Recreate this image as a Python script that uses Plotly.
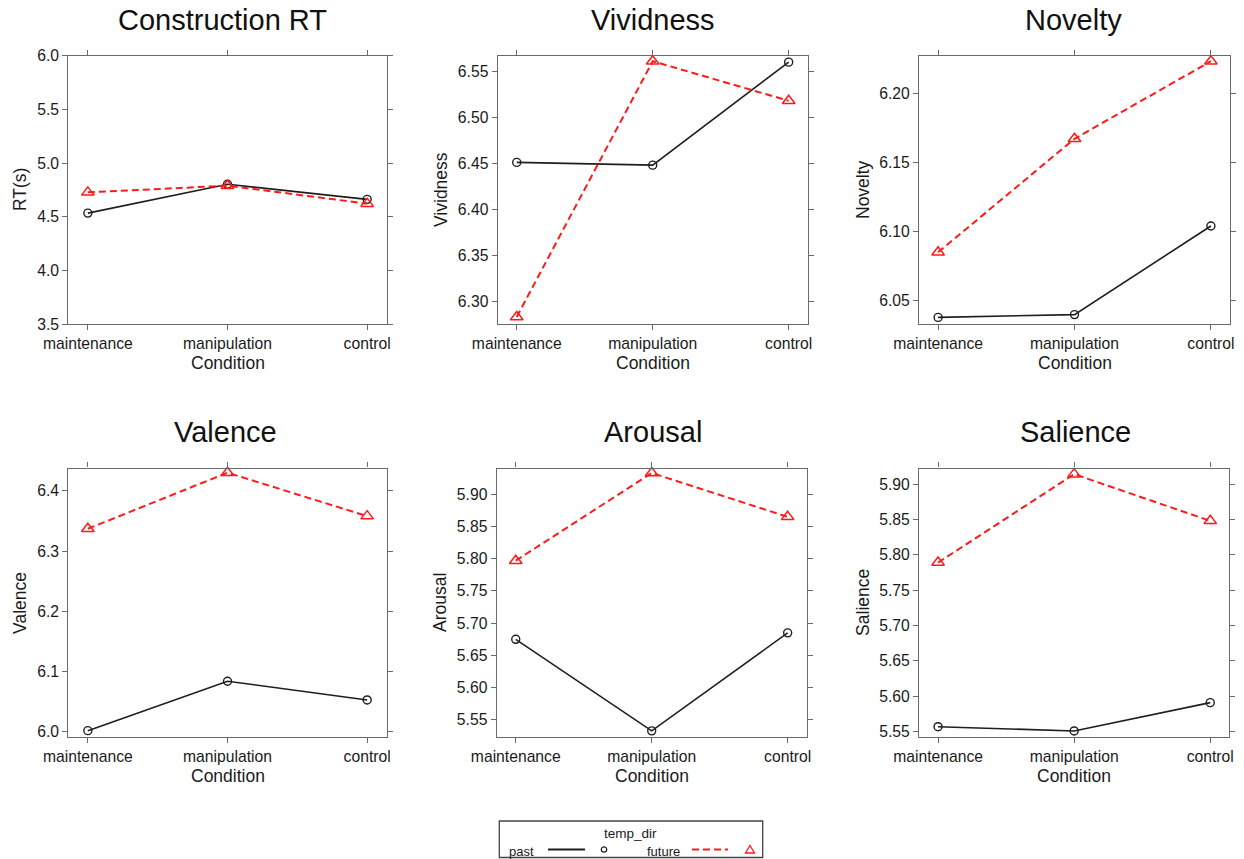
import plotly.graph_objects as go

# Condition levels on the x axis
conditions = ["maintenance", "manipulation", "control"]

# Cell means per outcome, split by temporal direction
rt_past = [4.535, 4.803, 4.663]
rt_future = [4.728, 4.790, 4.623]
viv_past = [6.451, 6.448, 6.560]
viv_future = [6.283, 6.561, 6.518]
nov_past = [6.038, 6.040, 6.104]
nov_future = [6.085, 6.167, 6.223]
val_past = [6.002, 6.084, 6.053]
val_future = [6.337, 6.430, 6.358]
aro_past = [5.675, 5.533, 5.685]
aro_future = [5.797, 5.933, 5.865]
sal_past = [5.557, 5.551, 5.591]
sal_future = [5.789, 5.914, 5.848]

titles = ["Construction RT", "Vividness", "Novelty", "Valence", "Arousal", "Salience"]
ylabels = ["RT(s)", "Vividness", "Novelty", "Valence", "Arousal", "Salience"]
past_series = [rt_past, viv_past, nov_past, val_past, aro_past, sal_past]
future_series = [rt_future, viv_future, nov_future, val_future, aro_future, sal_future]

# axis settings per panel
y_ranges = [[3.5, 6.0], [6.275, 6.567], [6.033, 6.227],
            [5.991, 6.437], [5.523, 5.940], [5.542, 5.922]]
y_ticks = [[3.5, 4.0, 4.5, 5.0, 5.5, 6.0],
           [6.30, 6.35, 6.40, 6.45, 6.50, 6.55],
           [6.05, 6.10, 6.15, 6.20],
           [6.0, 6.1, 6.2, 6.3, 6.4],
           [5.55, 5.60, 5.65, 5.70, 5.75, 5.80, 5.85, 5.90],
           [5.55, 5.60, 5.65, 5.70, 5.75, 5.80, 5.85, 5.90]]
y_formats = [".1f", ".2f", ".2f", ".1f", ".2f", ".2f"]

W, H = 1244, 859
# panel boxes in pixels: (left, right, top, bottom)
boxes = [(68.3, 386.7, 55.7, 324.3), (497.7, 807.7, 55.7, 324.3), (919, 1230, 55.7, 324.3),
         (68.3, 386.7, 468.5, 737.3), (496.7, 806.7, 468.5, 737.3), (919, 1229.3, 468.5, 737.3)]
title_x = [222.5, 653, 1073, 225, 653, 1075]
title_y = [20, 20, 20, 432, 432, 432]
ylab_x = [20, 441, 863, 20, 440, 863]

FONT = "Liberation Sans, Arial, sans-serif"
AXIS_COL = "#6a6a6a"
TXT = "#1a1a1a"

fig = go.Figure()
annotations = []

for i in range(6):
    n = "" if i == 0 else str(i + 1)
    xa, ya = "x" + n, "y" + n
    l, r, t, b = boxes[i]
    fig.add_trace(go.Scatter(
        x=conditions, y=past_series[i], xaxis=xa, yaxis=ya, mode="lines+markers",
        line=dict(color="#1e1e1e", width=1.6),
        marker=dict(symbol="circle-open", size=8, color="#1e1e1e", line=dict(width=1.4)),
        showlegend=False, cliponaxis=False))
    fig.add_trace(go.Scatter(
        x=conditions, y=future_series[i], xaxis=xa, yaxis=ya, mode="lines+markers",
        line=dict(color="#ff1a1a", width=2, dash="7px,4px"),
        marker=dict(symbol="triangle-up-open", size=11, color="#ff1a1a", line=dict(width=1.5)),
        showlegend=False, cliponaxis=False))

    common = dict(showline=True, linecolor=AXIS_COL, linewidth=1.3, mirror="ticks",
                  ticks="outside", ticklen=5, tickwidth=1.2, tickcolor=AXIS_COL,
                  showgrid=False, zeroline=False, fixedrange=True, automargin=False,
                  tickfont=dict(family=FONT, size=15.7, color=TXT))
    fig.layout["xaxis" + n] = dict(
        common, domain=[l / W, r / W], anchor=ya, type="category",
        categoryorder="array", categoryarray=conditions, range=[-0.14, 2.14])
    fig.layout["yaxis" + n] = dict(
        common, domain=[1 - b / H, 1 - t / H], anchor=xa, range=y_ranges[i],
        tickmode="array", tickvals=y_ticks[i],
        ticktext=[format(v, y_formats[i]) for v in y_ticks[i]])

    annotations.append(dict(text=titles[i], x=title_x[i] / W, y=1 - title_y[i] / H,
                            xref="paper", yref="paper", showarrow=False,
                            xanchor="center", yanchor="middle",
                            font=dict(family=FONT, size=29, color="#111111")))
    annotations.append(dict(text=ylabels[i], x=ylab_x[i] / W, y=1 - (t + b) / 2 / H,
                            xref="paper", yref="paper", showarrow=False, textangle=-90,
                            xanchor="center", yanchor="middle",
                            font=dict(family=FONT, size=17.5, color=TXT)))
    annotations.append(dict(text="Condition", x=(l + r) / 2 / W, y=1 - (b + 39) / H,
                            xref="paper", yref="paper", showarrow=False,
                            xanchor="center", yanchor="middle",
                            font=dict(family=FONT, size=17.5, color=TXT)))

# key for the temporal-direction factor
def px(x):
    return x / W

def py(y):
    return 1 - y / H

shapes = [
    dict(type="rect", xref="paper", yref="paper", x0=px(499.3), x1=px(762.7),
         y0=py(857.5), y1=py(821), line=dict(color="#444444", width=1.3)),
    dict(type="line", xref="paper", yref="paper", x0=px(548), x1=px(585),
         y0=py(849.5), y1=py(849.5), line=dict(color="#1e1e1e", width=2)),
    dict(type="circle", xref="paper", yref="paper", x0=px(601.3), x1=px(606.7),
         y0=py(852.2), y1=py(846.8), line=dict(color="#1e1e1e", width=1.2)),
    dict(type="line", xref="paper", yref="paper", x0=px(692), x1=px(728),
         y0=py(849.5), y1=py(849.5), line=dict(color="#ff1a1a", width=2, dash="7px,4px")),
    dict(type="path", xref="paper", yref="paper",
         path="M {:.5f} {:.5f} L {:.5f} {:.5f} L {:.5f} {:.5f} Z".format(
             px(745.5), py(853), px(754.5), py(853), px(750), py(845.5)),
         line=dict(color="#ff1a1a", width=1.3)),
]
annotations += [
    dict(text="temp_dir", x=px(630), y=py(833), xref="paper", yref="paper", showarrow=False,
         xanchor="center", yanchor="middle", font=dict(family=FONT, size=13.5, color=TXT)),
    dict(text="past", x=px(507), y=py(851), xref="paper", yref="paper", showarrow=False,
         xanchor="left", yanchor="middle", font=dict(family=FONT, size=13, color=TXT)),
    dict(text="future", x=px(645), y=py(851), xref="paper", yref="paper", showarrow=False,
         xanchor="left", yanchor="middle", font=dict(family=FONT, size=13, color=TXT)),
]

fig.update_layout(
    template="none",
    width=W, height=H, margin=dict(l=0, r=0, t=0, b=0, pad=0),
    paper_bgcolor="white", plot_bgcolor="white",
    annotations=annotations, shapes=shapes, showlegend=False,
)

fig.write_html("out.html", config={"displayModeBar": False})
